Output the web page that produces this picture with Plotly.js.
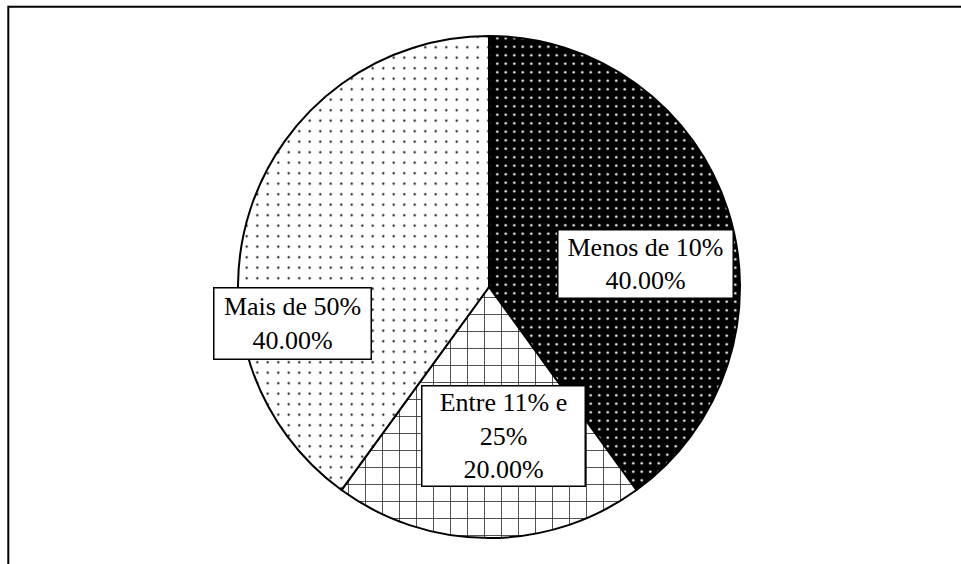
<!DOCTYPE html>
<html>
<head>
<meta charset="utf-8">
<script src="https://cdn.plot.ly/plotly-3.0.1.min.js"></script>
<style>
  html, body { margin: 0; padding: 0; background: #fff; }
  #chart { width: 961px; height: 564px; }
</style>
</head>
<body>
<div id="chart"></div>
<script>
// ---- data ----
var categories = ["Menos de 10%", "Entre 11% e 25%", "Mais de 50%"];
var values = [40, 20, 40];

// ---- styles (per slice) ----
var patternShapes = [".", "+", "."];
var patternBg = ["#000000", "#ffffff", "#ffffff"];
var patternFg = ["#ffffff", "#222222", "#000000"];
var patternSize = [8.5, 17, 10.5];
var patternSolidity = [0.07, 0.09, 0.035];

// label box centres (pixels) and sizes
var labelCx = [645, 503, 292];
var labelCy = [263.5, 436, 323];
var labelW = [174, 162, 156];
var labelH = [67, 99, 70];

var W = 961, H = 564;
var cx = 489, cy = 287, R = 251;

function wrap(s, maxLen) {
  var words = s.split(" "), lines = [], cur = "";
  words.forEach(function (w) {
    var t = cur ? cur + " " + w : w;
    if (t.length > maxLen && cur) { lines.push(cur); cur = w; } else { cur = t; }
  });
  if (cur) lines.push(cur);
  return lines.join("<br>");
}

var total = values.reduce(function (a, b) { return a + b; }, 0);

var trace = {
  type: "pie",
  labels: categories,
  values: values,
  sort: false,
  direction: "clockwise",
  rotation: 0,
  textinfo: "none",
  hoverinfo: "label+percent",
  showlegend: false,
  domain: {
    x: [(cx - R) / W, (cx + R) / W],
    y: [1 - (cy + R) / H, 1 - (cy - R) / H]
  },
  marker: {
    colors: patternBg,
    line: { color: "#000000", width: 2 },
    pattern: {
      shape: patternShapes,
      bgcolor: patternBg,
      fgcolor: patternFg,
      size: patternSize,
      solidity: patternSolidity,
      fillmode: "replace"
    }
  }
};

var annotations = categories.map(function (c, i) {
  return {
    xref: "paper", yref: "paper",
    x: labelCx[i] / W, y: 1 - labelCy[i] / H,
    xanchor: "center", yanchor: "middle",
    showarrow: false,
    text: wrap(c, 12) + "<br>" + (values[i] / total * 100).toFixed(2) + "%",
    align: "center",
    font: { family: "Liberation Serif, Times New Roman, serif", size: 26, color: "#000" },
    bgcolor: "#ffffff",
    bordercolor: "#000000",
    borderwidth: 1.5,
    borderpad: 0,
    width: labelW[i],
    height: labelH[i]
  };
});

var layout = {
  width: W, height: H,
  margin: { l: 0, r: 0, t: 0, b: 0 },
  paper_bgcolor: "#ffffff",
  plot_bgcolor: "#ffffff",
  showlegend: false,
  annotations: annotations,
  shapes: [
    { type: "line", xref: "paper", yref: "paper", x0: 8.3 / W, x1: 1.01, y0: 1 - 6.8 / H, y1: 1 - 6.8 / H, line: { color: "#000", width: 2 } },
    { type: "line", xref: "paper", yref: "paper", x0: 8.3 / W, x1: 8.3 / W, y0: 1 - 5.8 / H, y1: -0.01, line: { color: "#000", width: 2 } }
  ]
};

Plotly.newPlot("chart", [trace], layout, { staticPlot: true, displayModeBar: false });
</script>
</body>
</html>
